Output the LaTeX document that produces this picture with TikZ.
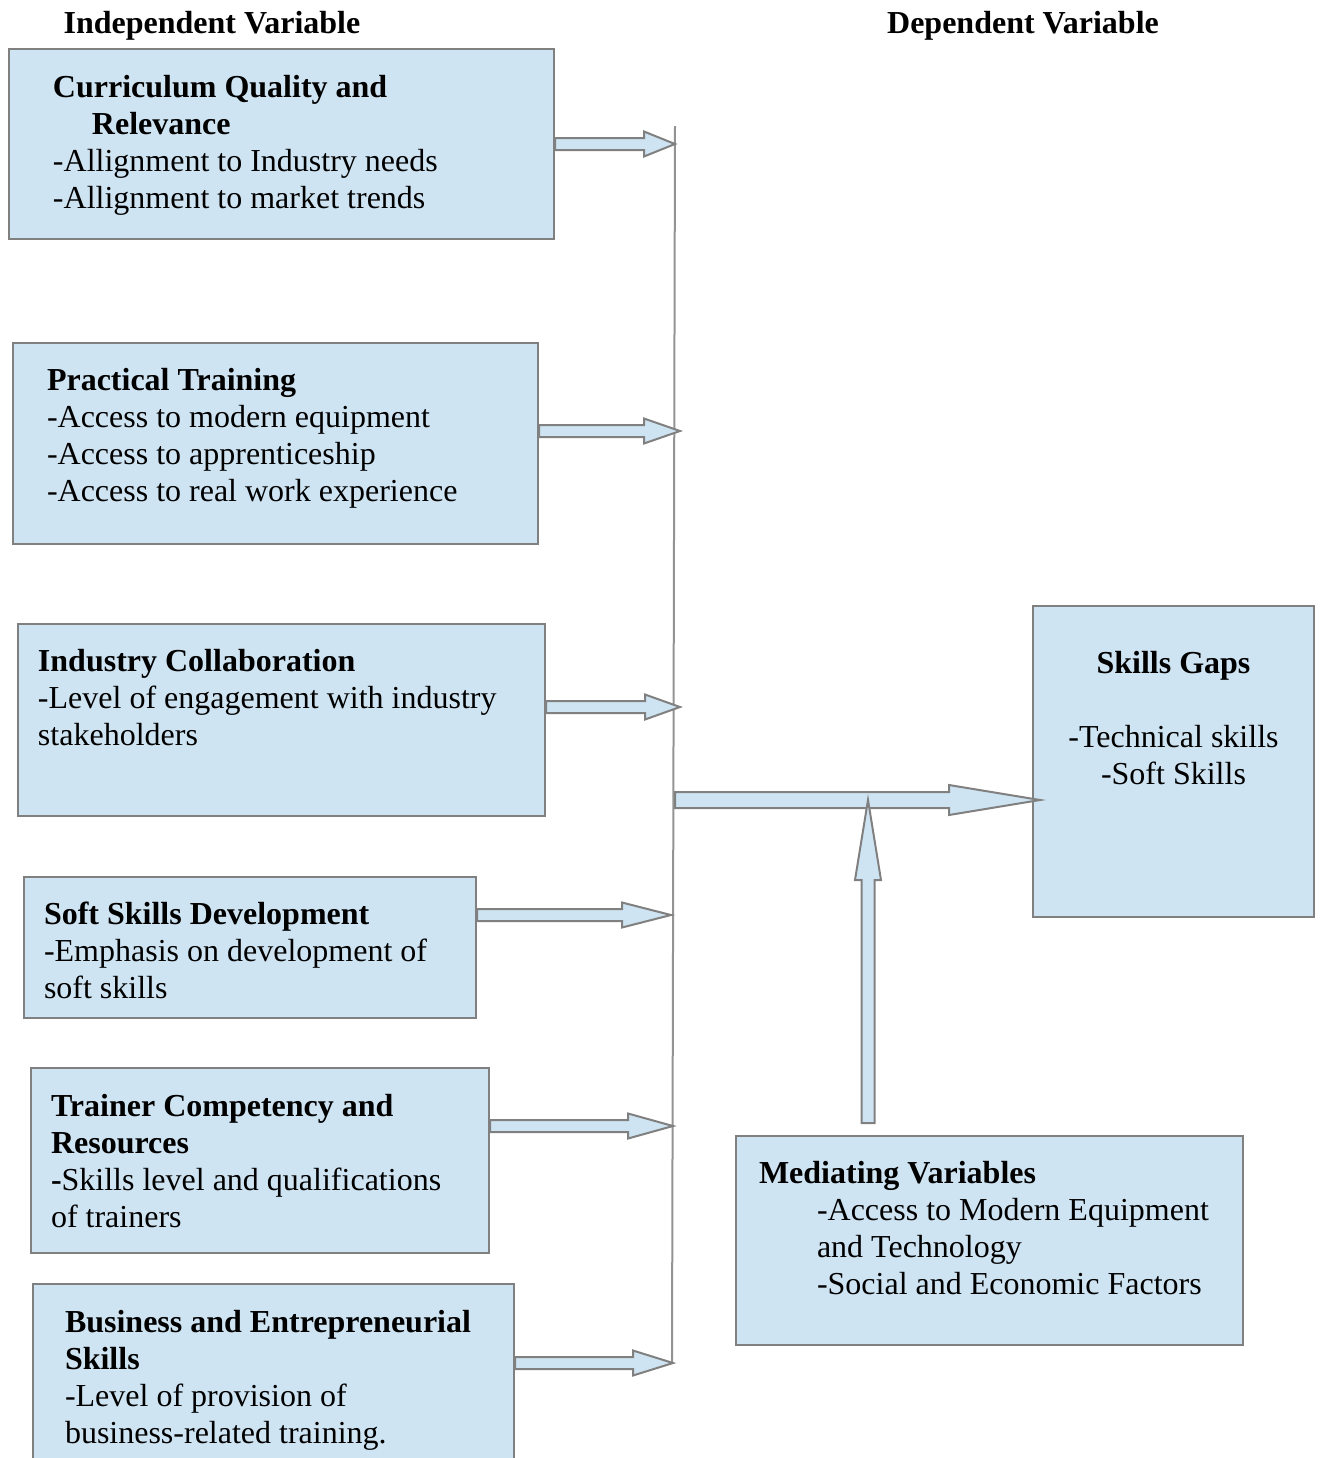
\documentclass[tikz,border=0pt]{standalone}
\usepackage{fontspec}
\setmainfont{Liberation Serif}
\usetikzlibrary{calc}

\definecolor{boxfill}{RGB}{207,228,242}
\definecolor{boxline}{RGB}{128,128,128}

\newcommand{\blockarrow}[5]{% start, tip, shaft half width, head half width, head length
  \path ($(#2)!#5!(#1)$) coordinate (hb);
  \draw[blockarr] ($(#1)!#3!90:(#2)$) -- ($(hb)!#3!90:(#2)$) -- ($(hb)!#4!90:(#2)$) -- (#2)
    -- ($(hb)!#4!-90:(#2)$) -- ($(hb)!#3!-90:(#2)$) -- ($(#1)!#3!-90:(#2)$) -- cycle;}

\tikzset{
  varbox/.style={draw=boxline, line width=1pt, fill=boxfill, anchor=north west, align=left,
    inner ysep=0pt, font=\fontsize{16}{18.5}\selectfont,
    execute at begin node={\spaceskip=0.25em\xspaceskip=0.25em\relax}},
  blockarr/.style={draw=boxline, line width=1pt, fill=boxfill, line join=miter},
  busline/.style={draw=boxline!85, line width=1pt},
  heading/.style={font=\fontsize{16}{18.5}\selectfont\bfseries, anchor=base}
}

\begin{document}
\begin{tikzpicture}[x=0.5pt,y=-0.5pt]
\useasboundingbox (0,0) rectangle (1322,1458);
\clip (0,0) rectangle (1322,1458);

% headings
\node[heading] (iv) at (212,33) {Independent Variable};
\node[heading] (dv) at (1023,33) {Dependent Variable};

% independent variables
\node[varbox, inner xsep=22pt, text width=228.5pt, text height=24pt, text depth=71pt] (cq) at (8,48)
  {\textbf{Curriculum Quality and}\\\hspace*{19.5pt}\textbf{Relevance}\\-Allignment to Industry needs\\-Allignment to market trends};
\node[varbox, inner xsep=17pt, text width=228.5pt, text height=23.5pt, text depth=77pt] (pt) at (12,342)
  {\textbf{Practical Training}\\-Access to modern equipment\\-Access to apprenticeship\\-Access to real work experience};
\node[varbox, inner xsep=10pt, text width=243.5pt, text height=23.5pt, text depth=72.5pt] (ic) at (17,623)
  {\textbf{Industry Collaboration}\\-Level of engagement with industry\\stakeholders};
\node[varbox, inner xsep=10pt, text width=206pt, text height=23.5pt, text depth=47pt] (ss) at (23,876)
  {\textbf{Soft Skills Development}\\-Emphasis on development of\\soft skills};
\node[varbox, inner xsep=10pt, text width=209pt, text height=24pt, text depth=68.5pt] (tc) at (30,1067)
  {\textbf{Trainer Competency and}\\\textbf{Resources}\\\textbf{-}Skills level and qualifications\\of trainers};
\node[varbox, inner xsep=16pt, text width=208.5pt, text height=24pt, text depth=100pt] (be) at (32,1283)
  {\textbf{Business and Entrepreneurial}\\\textbf{Skills}\\-Level of provision of\\business-related training.};

% dependent and mediating variables
\node[varbox, align=center, inner xsep=0pt, text width=140.5pt, text height=33.5pt, text depth=122pt] (sg) at (1032,605)
  {\textbf{Skills Gaps}\\[18.5pt]-Technical skills\\-Soft Skills};
\node[varbox, inner xsep=11.5pt, text width=230.5pt, text height=23.5pt, text depth=81pt] (mv) at (735,1135)
  {\textbf{Mediating Variables}\\\hspace*{29pt}-Access to Modern Equipment\\\hspace*{29pt}and Technology\\\hspace*{29pt}-Social and Economic Factors};

% bus line and arrows into it
\coordinate (bustop) at (675,126); \coordinate (busbot) at (672,1363);
\draw[busline] (bustop) -- (busbot);
\foreach \n/\x/\y in {1/675/144,2/680/431,3/680/707,4/671/915,5/673/1126,6/673/1363}{\coordinate (in\n) at (\x,\y);}
\foreach \b/\n/\h in {cq/1/15.5pt,pt/2/18pt,ic/3/17.5pt,ss/4/24.5pt,tc/5/22.5pt,be/6/20pt}{
  \coordinate (out\n) at (\b.east |- in\n);
  \blockarrow{out\n}{in\n}{3pt}{6.25pt}{\h}
}

% main arrow and mediating arrow
\coordinate (joint) at (675,800); \coordinate (gaptip) at (1040,800);
\blockarrow{joint}{gaptip}{4pt}{7.5pt}{45.5pt}
\coordinate (medtop) at (868,1123);
\blockarrow{medtop}{medtop |- joint}{3.25pt}{6.5pt}{40pt}
\end{tikzpicture}
\end{document}
